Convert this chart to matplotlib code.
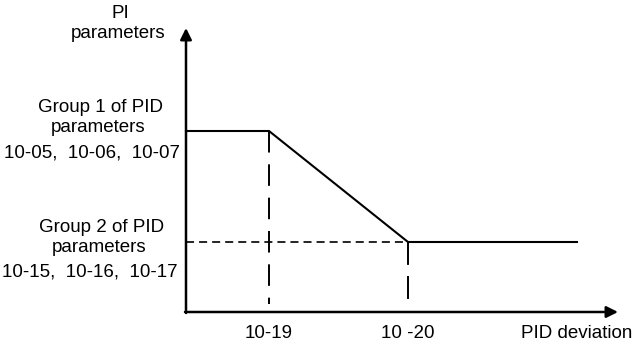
import matplotlib
matplotlib.use("Agg")
import matplotlib.pyplot as plt

plt.rcParams['font.family'] = ['Liberation Sans', 'DejaVu Sans']
plt.rcParams['lines.scale_dashes'] = False

# breakpoints on the deviation axis (10-19, 10-20) and end of the curve
x_break = [0.83, 2.22]
x_end = 3.91
# levels: group 1 and group 2 of PID parameters
y_group1 = 1.81
y_group2 = 0.70

curve_x = [0, x_break[0], x_break[1], x_end]
curve_y = [y_group1, y_group1, y_group2, y_group2]

tick_labels = ["10-19", "10 -20"]
group1_text = ["Group 1 of PID", "parameters", "10-05,  10-06,  10-07"]
group2_text = ["Group 2 of PID", "parameters", "10-15,  10-16,  10-17"]

fig = plt.figure(figsize=(6.35, 3.45), dpi=100)
ax = fig.add_axes([0, 0, 1, 1])
ax.set_xlim(-1.86, 4.49)
ax.set_ylim(-0.33, 3.12)
ax.axis('off')

# axes with arrows
arr = dict(arrowstyle='-|>', lw=1.8, color='black', mutation_scale=17, shrinkA=0, shrinkB=0)
ax.annotate('', xy=(4.32, 0), xytext=(-0.01, 0), arrowprops=arr)
ax.annotate('', xy=(0, 2.84), xytext=(0, -0.01), arrowprops=arr)

# the curve
ax.plot(curve_x, curve_y, color='black', lw=1.5, solid_joinstyle='miter')

# dashed guides
ax.plot([0, x_break[1]], [y_group2, y_group2], color='black', lw=1.2, dashes=(5.8, 3.6))
ax.plot([x_break[0], x_break[0]], [y_group1, 0.08], color='black', lw=1.4, dashes=(15.5, 8.5))
ax.plot([x_break[1], x_break[1]], [y_group2, 0.12], color='black', lw=1.4, dashes=(16.5, 8))

fs = 13.5
ax.text(-0.66, 2.98, "PI", ha='center', va='center', fontsize=fs)
ax.text(-0.68, 2.79, "parameters", ha='center', va='center', fontsize=fs)

for t, (x, y) in zip(group1_text, [(-0.86, 2.04), (-0.88, 1.85), (-0.94, 1.59)]):
    ax.text(x, y, t, ha='center', va='center', fontsize=fs)
for t, (x, y) in zip(group2_text, [(-0.84, 0.84), (-0.87, 0.65), (-0.96, 0.40)]):
    ax.text(x, y, t, ha='center', va='center', fontsize=fs)

for xb, lab in zip(x_break, tick_labels):
    ax.text(xb, -0.22, lab, ha='center', va='center', fontsize=fs)
ax.text(3.91, -0.21, "PID deviation", ha='center', va='center', fontsize=fs)

fig.savefig("out.png", dpi=100)
